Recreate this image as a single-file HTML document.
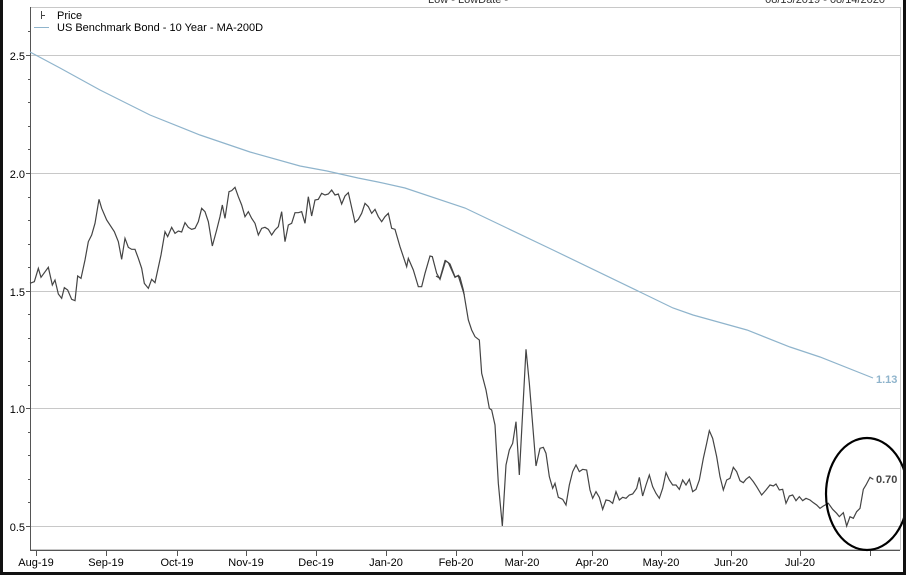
<!DOCTYPE html>
<html><head><meta charset="utf-8"><style>
html,body{margin:0;padding:0;background:#fff;}
svg{display:block;font-family:"Liberation Sans",Arial,sans-serif;}
</style></head><body>
<svg width="906" height="575" viewBox="0 0 906 575" xmlns="http://www.w3.org/2000/svg">
<rect x="0" y="0" width="906" height="575" fill="#fff"/>
<!-- top cut text -->
<text x="428" y="3" font-size="11" fill="#333">Low - LowDate -</text>
<text x="885" y="3" font-size="11" fill="#333" text-anchor="end">08/15/2019 - 08/14/2020</text>
<!-- frame -->
<rect x="30.5" y="7.5" width="870" height="542" fill="none" stroke="#c8c8c8"/>
<!-- grid -->
<g stroke="#c8c8c8" stroke-width="1">
<line x1="30" y1="55.5" x2="900" y2="55.5"/>
<line x1="30" y1="173.5" x2="900" y2="173.5"/>
<line x1="30" y1="291.5" x2="900" y2="291.5"/>
<line x1="30" y1="408.5" x2="900" y2="408.5"/>
<line x1="30" y1="526.5" x2="900" y2="526.5"/>
</g>
<!-- axes -->
<line x1="30.5" y1="7" x2="30.5" y2="551" stroke="#555"/>
<line x1="30" y1="550.5" x2="900" y2="550.5" stroke="#555"/>
<g stroke="#555">
<line x1="26" y1="55.5" x2="30" y2="55.5"/><line x1="26" y1="173.5" x2="30" y2="173.5"/>
<line x1="26" y1="291.5" x2="30" y2="291.5"/><line x1="26" y1="408.5" x2="30" y2="408.5"/>
<line x1="26" y1="526.5" x2="30" y2="526.5"/>
<line x1="28" y1="31.5" x2="30" y2="31.5"/>
<line x1="28" y1="79.5" x2="30" y2="79.5"/><line x1="28" y1="102.5" x2="30" y2="102.5"/><line x1="28" y1="126.5" x2="30" y2="126.5"/><line x1="28" y1="149.5" x2="30" y2="149.5"/>
<line x1="28" y1="197.5" x2="30" y2="197.5"/><line x1="28" y1="220.5" x2="30" y2="220.5"/><line x1="28" y1="244.5" x2="30" y2="244.5"/><line x1="28" y1="267.5" x2="30" y2="267.5"/>
<line x1="28" y1="314.5" x2="30" y2="314.5"/><line x1="28" y1="338.5" x2="30" y2="338.5"/><line x1="28" y1="361.5" x2="30" y2="361.5"/><line x1="28" y1="385.5" x2="30" y2="385.5"/>
<line x1="28" y1="432.5" x2="30" y2="432.5"/><line x1="28" y1="455.5" x2="30" y2="455.5"/><line x1="28" y1="479.5" x2="30" y2="479.5"/><line x1="28" y1="502.5" x2="30" y2="502.5"/>
</g>
<g font-size="11" fill="#000" text-anchor="end">
<text x="25" y="60">2.5</text><text x="25" y="178">2.0</text><text x="25" y="296">1.5</text><text x="25" y="413">1.0</text><text x="25" y="531">0.5</text>
</g>
<!-- x ticks -->
<g stroke="#555">
<line x1="36.5" y1="550" x2="36.5" y2="556"/><line x1="106.5" y1="550" x2="106.5" y2="556"/><line x1="177.5" y1="550" x2="177.5" y2="556"/>
<line x1="246.5" y1="550" x2="246.5" y2="556"/><line x1="316.5" y1="550" x2="316.5" y2="556"/><line x1="386.5" y1="550" x2="386.5" y2="556"/>
<line x1="456.5" y1="550" x2="456.5" y2="556"/><line x1="522.5" y1="550" x2="522.5" y2="556"/><line x1="592.5" y1="550" x2="592.5" y2="556"/>
<line x1="661.5" y1="550" x2="661.5" y2="556"/><line x1="731.5" y1="550" x2="731.5" y2="556"/><line x1="800.5" y1="550" x2="800.5" y2="556"/>
<line x1="870.5" y1="550" x2="870.5" y2="556"/>
</g>
<g font-size="11" fill="#000" text-anchor="middle">
<text x="36" y="566">Aug-19</text><text x="106" y="566">Sep-19</text><text x="177" y="566">Oct-19</text><text x="246" y="566">Nov-19</text>
<text x="316" y="566">Dec-19</text><text x="386" y="566">Jan-20</text><text x="456" y="566">Feb-20</text><text x="522" y="566">Mar-20</text>
<text x="592" y="566">Apr-20</text><text x="661" y="566">May-20</text><text x="731" y="566">Jun-20</text><text x="800" y="566">Jul-20</text>
</g>
<!-- legend -->
<g stroke="#444"><line x1="41.5" y1="11" x2="41.5" y2="19"/><line x1="41" y1="15.5" x2="45" y2="15.5"/></g>
<text x="57" y="19" font-size="11" fill="#000">Price</text>
<line x1="34" y1="27.5" x2="49" y2="27.5" stroke="#8fb4cc"/>
<text x="57" y="31" font-size="11" fill="#000">US Benchmark Bond - 10 Year - MA-200D</text>
<!-- MA line -->
<polyline fill="none" stroke="#8fb4cc" stroke-width="1.2" points="30,52 60,68 100,90 150,115 200,135 250,152 300,166 327,171 358,178 378,182 405,188 465,208 553,250 640,292 673,308 693,315 747,330 790,347 820,357 873,378"/>
<!-- price -->
<g transform="translate(25,170) scale(0.33333)">
<polyline fill="none" stroke="#444" stroke-width="3.6" points="15,340 28,335 40,295 48,322 70,292 82,345 90,330 100,372 110,385 118,353 128,360 140,388 150,392 158,318 168,325 180,270 190,215 200,195 210,160 222,88 230,115 245,150 268,185 280,215 290,268 300,205 310,232 320,238 330,238 340,265 350,295 358,340 370,355 380,328 390,338 408,255 420,185 428,200 440,172 450,190 460,183 470,186 480,158 490,172 500,178 510,175 520,155 530,115 540,125 550,155 562,228 575,180 585,140 592,105 600,145 612,65 620,62 630,52 640,80 650,105 660,140 670,125 680,145 690,160 700,195 710,175 720,172 730,178 740,195 750,180 760,170 770,125 780,215 790,165 800,160 810,128 820,128 830,125 840,160 850,80 860,138 870,90 880,88 890,70 900,75 910,72 920,60 930,75 940,72 950,102 960,78 970,68 990,157 1000,148 1010,130 1020,100 1030,110 1040,130 1050,118 1060,140 1070,155 1080,140 1090,130 1100,175 1110,178 1125,230 1145,290 1150,265 1165,300 1180,350 1190,350 1200,310 1215,258 1222,260 1235,310 1245,328 1262,272 1275,282 1290,320 1300,318 1318,375"/>
</g>
<g transform="translate(440,250) scale(0.33333)">
<polyline fill="none" stroke="#444" stroke-width="3.6" points="-12,78 0,85 15,32 25,38 45,82 55,76 60,82 70,120 85,210 95,240 105,260 118,270 125,370 138,420 148,475 155,480 165,525 175,700 187,828 198,645 208,600 218,580 228,515 238,675 258,298 268,400 288,648 300,595 310,592 318,610 328,680 338,715 345,700 355,742 368,748 378,765 388,705 398,665 408,645 418,665 428,658 440,660 450,720 458,745 468,725 478,742 488,778 498,750 508,752 518,760 528,725 538,750 548,742 558,745 568,735 578,732 590,715 598,682 608,738 618,705 628,675 638,710 648,730 658,745 668,715 678,668 688,690 698,705 708,705 718,718 728,690 738,705 748,688 758,725 768,718 778,690 790,625 800,580 808,542 818,565 830,620 840,680 850,720 860,690 870,685 880,652 890,665 900,692 910,698 918,688 928,680 940,695 950,710 965,735 978,720 990,705 1000,708 1008,702 1018,720 1028,718 1038,760 1048,738 1058,735 1068,752 1078,740 1088,752 1098,745 1110,750 1120,758 1130,765 1140,775 1150,768 1165,760 1178,778 1190,790 1198,800 1210,788 1220,828 1230,800 1240,805 1250,785 1260,775 1270,718 1278,705 1290,682 1300,688"/>
</g>
<text x="876" y="383" font-size="11" font-weight="bold" fill="#8fb4cc">1.13</text>
<text x="876" y="483" font-size="11" font-weight="bold" fill="#444">0.70</text>
<!-- circle -->
<ellipse cx="867" cy="494" rx="41" ry="56" fill="none" stroke="#000" stroke-width="2.2"/>
<!-- outer borders -->
<rect x="0" y="0" width="3" height="575" fill="#111"/>
<rect x="903" y="0" width="3" height="575" fill="#111"/>
<rect x="0" y="572" width="906" height="3" fill="#111"/>
</svg>
</body></html>
